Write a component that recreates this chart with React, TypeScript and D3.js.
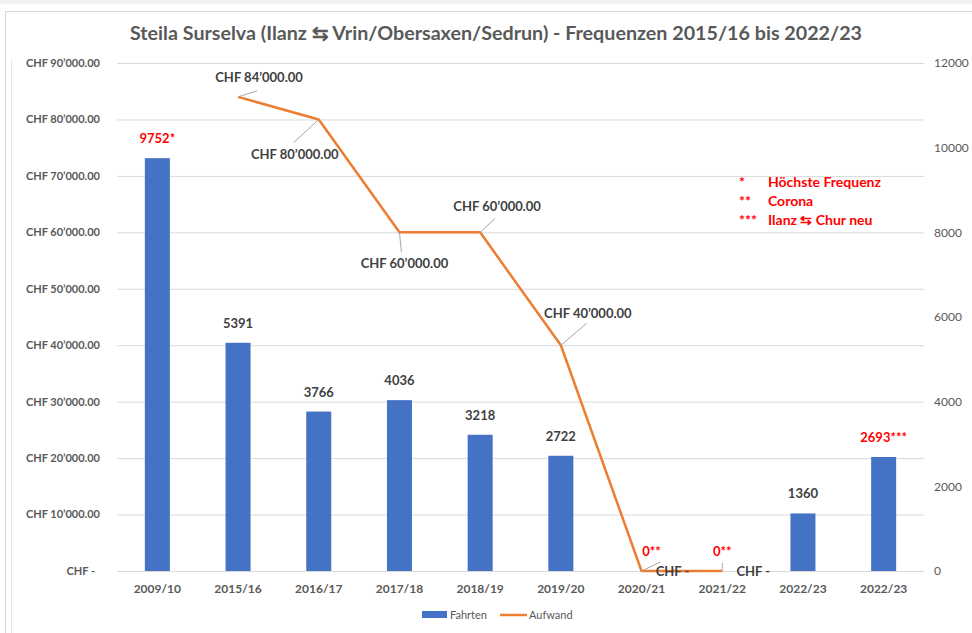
import * as d3 from 'd3'

// categories (the last one appears twice in the source chart)
const categories = ['2009/10', '2015/16', '2016/17', '2017/18', '2018/19', '2019/20', '2020/21', '2021/22', '2022/23', '2022/23']
const fahrten = [9752, 5391, 3766, 4036, 3218, 2722, 0, 0, 1360, 2693]
const fahrtenLabels = ['9752*', '5391', '3766', '4036', '3218', '2722', '0**', '0**', '1360', '2693***']
const fahrtenHighlight = [true, false, false, false, false, false, true, true, false, true]
const aufwand: (number | null)[] = [null, 84000, 80000, 60000, 60000, 40000, 0, 0, null, null]

const leftTicks = [0, 10000, 20000, 30000, 40000, 50000, 60000, 70000, 80000, 90000]
const rightTicks = [0, 2000, 4000, 6000, 8000, 10000, 12000]

const notes = [
  { mark: '*', text: 'Höchste Frequenz' },
  { mark: '**', text: 'Corona' },
  { mark: '***', text: 'Ilanz ⇆ Chur neu' },
]

// label placement for the Aufwand data labels (relative to the point)
const lineLabelPos: Record<number, { tx: number; ty: number; lx: number; ly: number }> = {
  1: { tx: 21, ty: -19, lx: 19, ly: -6 },
  2: { tx: -24, ty: 35, lx: -25, ly: 23 },
  3: { tx: 5, ty: 31, lx: 2, ly: 20 },
  4: { tx: 17, ty: -26, lx: 15, ly: -14 },
  5: { tx: 27, ty: -32, lx: 26, ly: -22 },
  6: { tx: 31, ty: 0, lx: 19, ly: -9 },
  7: { tx: 31, ty: 0, lx: 0, ly: -8 },
}
const barLabelDx = [0, 0, 0, 0, 0, 0, 10, 0, 0, 0]

const W = 972
const H = 633
const FONT = 'Lato, "Open Sans", sans-serif'
const BLUE = '#4472C4'
const ORANGE = '#ED7D31'
const GREY = '#595959'
const DARK = '#404040'
const RED = '#FF0000'

const fmtChf = (v: number) => {
  if (v === 0) return 'CHF -'
  const s = d3.format(',.2f')(v).replace(/,/g, '\u2019')
  return `CHF ${s}`
}

export default function App() {
  const plot = { left: 117, right: 924, top: 63, bottom: 571 }

  const x = d3.scaleBand<number>()
    .domain(categories.map((_, i) => i))
    .range([plot.left, plot.right])
    .paddingInner(0.69)
    .paddingOuter(0.345)
  const cx = (i: number) => (x(i) ?? 0) + x.bandwidth() / 2

  const yL = d3.scaleLinear().domain([0, 90000]).range([plot.bottom, plot.top])
  const yR = d3.scaleLinear().domain([0, 12000]).range([plot.bottom, plot.top])

  const linePts = aufwand
    .map((v, i) => ({ v, i }))
    .filter(d => d.v !== null) as { v: number; i: number }[]

  const linePath = d3.line<{ v: number; i: number }>()
    .x(d => cx(d.i))
    .y(d => yL(d.v))(linePts)

  return (
    <svg width={W} height={H} style={{ position: 'absolute', left: 0, top: 0, background: '#fff' }} fontFamily={FONT}>
      <rect x={0} y={0} width={W} height={4} fill="#f2f2f2" />
      <rect x={5.5} y={11.5} width={W + 10} height={H} fill="#fff" stroke="#d9d9d9" />
      <line x1={11.5} x2={11.5} y1={60} y2={H} stroke="#e6e6e6" />

      {/* title */}
      <text x={496} y={40} textAnchor="middle" fontSize={19} fontWeight={700} fill={GREY} textLength={732} lengthAdjust="spacingAndGlyphs">
        Steila Surselva (Ilanz ⇆ Vrin/Obersaxen/Sedrun) - Frequenzen 2015/16 bis 2022/23
      </text>

      {/* gridlines */}
      {leftTicks.map(t => (
        <line key={t} x1={plot.left} x2={plot.right} y1={yL(t) + 0.5} y2={yL(t) + 0.5} stroke="#d9d9d9" strokeWidth={1} />
      ))}

      {/* left axis */}
      {leftTicks.map(t => (
        <text key={t} x={t === 0 ? 95 : 100} y={yL(t)} dy="0.35em" textAnchor="end" fontSize={11} fontWeight={700} fill={GREY}>
          {fmtChf(t)}
        </text>
      ))}

      {/* right axis */}
      {rightTicks.map(t => (
        <text key={t} x={934} y={yR(t)} dy="0.35em" textAnchor="start" fontSize={12} fill={GREY}>
          {t}
        </text>
      ))}

      {/* categories */}
      {categories.map((c, i) => (
        <text key={i} x={cx(i)} y={589} dy="0.35em" textAnchor="middle" fontSize={12} fontWeight={700} fill={GREY}>
          {c}
        </text>
      ))}

      {/* bars */}
      {fahrten.map((v, i) => (
        <rect key={i} x={x(i)} y={yR(v)} width={x.bandwidth()} height={plot.bottom - yR(v)} fill={BLUE} />
      ))}

      {/* line */}
      <path d={linePath ?? ''} fill="none" stroke={ORANGE} strokeWidth={2.5} strokeLinejoin="round" />

      {/* line leader lines + labels */}
      {linePts.map(d => {
        const p = lineLabelPos[d.i]
        const px = cx(d.i)
        const py = yL(d.v)
        return (
          <g key={d.i}>
            <line x1={px} y1={py} x2={px + p.lx} y2={py + p.ly} stroke="#a6a6a6" strokeWidth={1} />
            <text x={px + p.tx} y={py + p.ty} dy="0.35em" textAnchor="middle" fontSize={13} fontWeight={700} fill={DARK}>
              {fmtChf(d.v)}
            </text>
          </g>
        )
      })}

      {/* bar labels */}
      {fahrten.map((v, i) => (
        <text key={i} x={cx(i) + barLabelDx[i]} y={yR(v) - 15} textAnchor="middle" fontSize={13} fontWeight={700}
          fill={fahrtenHighlight[i] ? RED : DARK}>
          {fahrtenLabels[i]}
        </text>
      ))}

      {/* notes */}
      {notes.map((n, i) => (
        <g key={i} fontSize={14} fontWeight={700} fill={RED}>
          <text x={739} y={182 + i * 19} dy="0.35em">{n.mark}</text>
          <text x={768} y={182 + i * 19} dy="0.35em">{n.text}</text>
        </g>
      ))}

      {/* legend */}
      <rect x={422} y={611} width={25} height={7} fill={BLUE} />
      <text x={450} y={615} dy="0.35em" fontSize={11} fill={GREY}>Fahrten</text>
      <line x1={500} x2={527} y1={615} y2={615} stroke={ORANGE} strokeWidth={2.5} />
      <text x={529} y={615} dy="0.35em" fontSize={11} fill={GREY}>Aufwand</text>
    </svg>
  )
}
